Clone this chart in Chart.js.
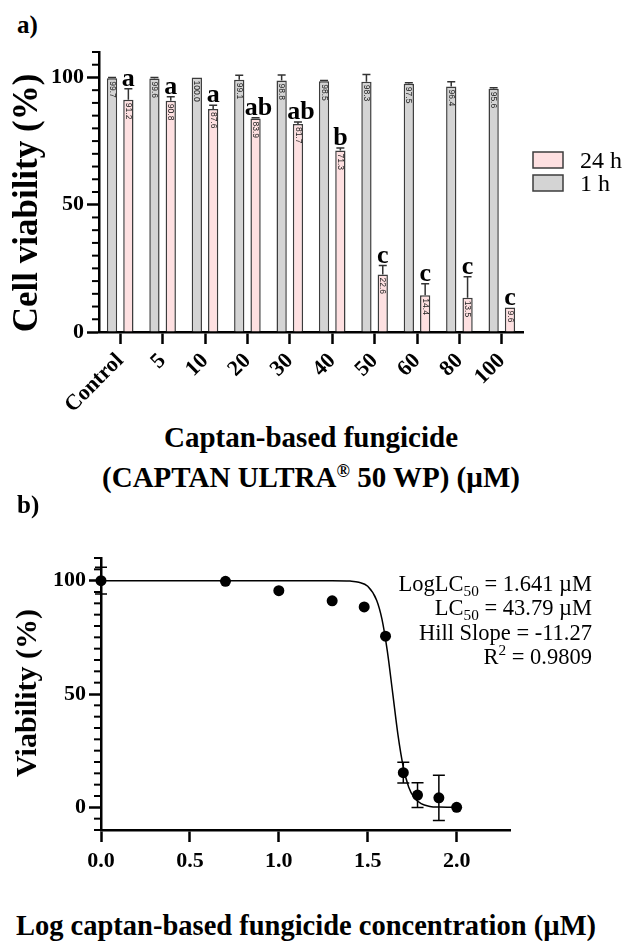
<!DOCTYPE html>
<html>
<head>
<meta charset="utf-8">
<script src="https://cdn.jsdelivr.net/npm/chart.js@4.4.1/dist/chart.umd.min.js"></script>
<style>
  body { margin: 0; background: #fff; }
  #fig { position: relative; width: 624px; height: 941px; overflow: hidden;
         font-family: 'Liberation Serif', 'Times New Roman', serif; color: #000; }
  .txt { position: absolute; white-space: nowrap; line-height: 1; }
  .bold { font-weight: bold; }
  .ytitle { transform: translate(-50%, -50%) rotate(-90deg); }
  .xtitle { transform: translateX(-50%); }
  .reg { font-size: 0.62em; vertical-align: 0.55em; line-height: 0; }
  .stats { text-align: right; font-size: 22.5px; line-height: 24.5px; }
  .stats sub { font-size: 0.68em; vertical-align: -0.3em; line-height: 0; }
  .stats sup { font-size: 0.68em; vertical-align: 0.6em; line-height: 0; }
  #wrapA { position: absolute; left: 0; top: 0; }
  #wrapB { position: absolute; left: 0; top: 480px; }
  canvas { display: block; }
</style>
</head>
<body>
<div id="fig">
  <div class="txt bold" style="left:17px; top:12px; font-size:25px;">a)</div>
  <div id="wrapA"><canvas id="chartA" width="624" height="420"></canvas></div>
  <div class="txt bold ytitle" style="left:25px; top:203px; font-size:35px;">Cell viability (%)</div>
  <div class="txt bold xtitle" style="left:311px; top:422.7px; font-size:29px;">Captan-based fungicide</div>
  <div class="txt bold xtitle" style="left:311px; top:462.7px; font-size:29px;">(CAPTAN ULTRA<span class="reg">®</span> 50 WP) (µM)</div>

  <div class="txt bold" style="left:17px; top:492px; font-size:25px;">b)</div>
  <div id="wrapB"><canvas id="chartB" width="624" height="400"></canvas></div>
  <div class="txt bold ytitle" style="left:26px; top:693px; font-size:30px;">Viability (%)</div>
  <div class="txt stats" style="right:32px; top:571.8px;">
    LogLC<sub>50</sub> = 1.641 µM<br>LC<sub>50</sub> = 43.79 µM<br>Hill Slope = -11.27<br>R<sup>2</sup> = 0.9809
  </div>
  <div class="txt bold xtitle" style="left:306px; top:911.6px; font-size:28.5px;">Log captan-based fungicide concentration (µM)</div>
</div>

<script>
// a) cell viability per concentration
const concLabels = ['Control', '5', '10', '20', '30', '40', '50', '60', '80', '100'];
const viab1h = [99.7, 99.6, 100.0, 99.1, 98.8, 98.5, 98.3, 97.5, 96.4, 95.6];
const sd1h = [0.3, 0.4, 0, 1.8, 2.2, 0.3, 2.9, 0.4, 1.9, 0.4];
const viab24h = [91.2, 90.8, 87.6, 83.9, 81.7, 71.3, 22.6, 14.4, 13.5, 9.6];
const sd24h = [4.4, 1.6, 1.5, 0.3, 0.8, 1.0, 3.5, 4.6, 8.2, 0];
const letters24h = ['a', 'a', 'a', 'ab', 'ab', 'b', 'c', 'c', 'c', 'c'];

// b) dose-response, log concentration vs viability
const logConc = [0, 0.70, 1.00, 1.30, 1.48, 1.60, 1.70, 1.78, 1.90, 2.00];
const viability = [100, 99.7, 95.6, 91.1, 88.4, 75.5, 15.3, 5.4, 4.2, 0];
const viabilitySd = [5.9, 0, 0, 0, 0, 0, 4.6, 5.5, 10.0, 0];
// fitted curve
const fitX = [0, 0.5, 1.0, 1.3, 1.4, 1.45, 1.5, 1.55, 1.58, 1.61, 1.64, 1.67, 1.70, 1.73, 1.76, 1.80, 1.85, 1.90, 2.0];
const fitY = [100, 100, 100, 100, 99.8, 99.3, 97.5, 91.4, 83, 69, 50.6, 32, 17.8, 9.0, 4.4, 1.6, 0.4, 0.1, 0];

Chart.defaults.font.family = "'Liberation Serif', 'Times New Roman', serif";
Chart.defaults.color = '#000';
Chart.defaults.animation = false;

const tickFont = { family: "'Liberation Serif', serif", size: 22, weight: 'bold' };

function majorOnly(ctx) {
  return ctx.tick && ctx.tick.value % 50 === 0 ? '#000' : 'rgba(0,0,0,0)';
}

// short ticks every 5 on the y axis
const minorTicks = {
  id: 'minorTicks',
  afterDraw(chart) {
    const y = chart.scales.y, ctx = chart.ctx, left = chart.chartArea.left;
    ctx.save();
    ctx.strokeStyle = '#000';
    ctx.lineWidth = 2;
    y.ticks.forEach(t => {
      if (t.value % 50 === 0) return;
      const py = y.getPixelForValue(t.value);
      ctx.beginPath();
      ctx.moveTo(left - 7, py);
      ctx.lineTo(left, py);
      ctx.stroke();
    });
    ctx.restore();
  }
};

// error bars, value labels and letters on the bars
const barExtras = {
  id: 'barExtras',
  afterDatasetsDraw(chart) {
    const ctx = chart.ctx, yScale = chart.scales.y;
    chart.data.datasets.forEach((ds, di) => {
      const meta = chart.getDatasetMeta(di);
      meta.data.forEach((bar, i) => {
        const v = ds.data[i];
        const top = yScale.getPixelForValue(v + ds.sd[i]);
        ctx.save();
        if (ds.sd[i] > 0) {
          ctx.strokeStyle = '#333';
          ctx.lineWidth = 1.5;
          ctx.beginPath();
          ctx.moveTo(bar.x, bar.y);
          ctx.lineTo(bar.x, top);
          ctx.moveTo(bar.x - 4, top);
          ctx.lineTo(bar.x + 4, top);
          ctx.stroke();
        }
        ctx.translate(bar.x, bar.y + 3);
        ctx.rotate(Math.PI / 2);
        ctx.font = "8.5px 'Liberation Sans', Arial, sans-serif";
        ctx.fillStyle = '#222';
        ctx.textAlign = 'left';
        ctx.textBaseline = 'middle';
        ctx.fillText(v.toFixed(1), 0, 0);
        ctx.restore();
        if (ds.letters) {
          ctx.save();
          ctx.font = "bold 26px 'Liberation Serif', serif";
          ctx.fillStyle = '#000';
          ctx.textAlign = 'center';
          ctx.textBaseline = 'alphabetic';
          ctx.fillText(ds.letters[i], bar.x + (ds.letters[i].length > 1 ? 3 : 0), top - 3);
          ctx.restore();
        }
      });
    });
  }
};

// legend on the right, 24 h listed first
const sideLegend = {
  id: 'sideLegend',
  afterDraw(chart, args, opts) {
    const ctx = chart.ctx;
    const items = chart.data.datasets.slice().reverse();
    items.forEach((ds, k) => {
      const y = opts.top + k * opts.step;
      ctx.save();
      ctx.fillStyle = ds.backgroundColor;
      ctx.fillRect(opts.x, y, 30, 16);
      ctx.strokeStyle = ds.borderColor;
      ctx.lineWidth = 1.5;
      ctx.strokeRect(opts.x, y, 30, 16);
      ctx.fillStyle = '#000';
      ctx.font = "24px 'Liberation Serif', serif";
      ctx.textBaseline = 'alphabetic';
      ctx.fillText(ds.label, opts.x + 47, y + 16);
      ctx.restore();
    });
  }
};

new Chart(document.getElementById('chartA'), {
  type: 'bar',
  data: {
    labels: concLabels,
    datasets: [
      {
        label: '1 h', data: viab1h, sd: sd1h,
        backgroundColor: '#d4d4d4', borderColor: '#3c3c3c', borderWidth: 1.5,
        barPercentage: 0.63, categoryPercentage: 0.77
      },
      {
        label: '24 h', data: viab24h, sd: sd24h, letters: letters24h,
        backgroundColor: '#fee0e1', borderColor: '#3c3c3c', borderWidth: 1.5,
        barPercentage: 0.63, categoryPercentage: 0.77
      }
    ]
  },
  options: {
    responsive: false,
    layout: { padding: { top: 52, right: 101, left: 0, bottom: 0 } },
    plugins: {
      legend: { display: false },
      tooltip: { enabled: false },
      sideLegend: { x: 533, top: 152, step: 23 }
    },
    scales: {
      x: {
        z: 1,
        offset: true,
        grid: { drawOnChartArea: false, offset: false, tickLength: 12, tickWidth: 2.5, tickColor: '#000' },
        border: { color: '#000', width: 2.5 },
        ticks: { font: tickFont, maxRotation: 45, minRotation: 45, padding: 4, autoSkip: false },
        afterFit: (s) => { s.height = 88; }
      },
      y: {
        min: 0, max: 110,
        grid: { drawOnChartArea: false, tickLength: 12, tickWidth: 2.5, tickColor: majorOnly },
        border: { color: '#000', width: 2.5 },
        ticks: {
          stepSize: 5, autoSkip: false, font: tickFont, padding: 3,
          callback: (v) => (v % 50 === 0 ? v : '')
        },
        afterFit: (s) => { s.width = 99; }
      }
    }
  },
  plugins: [minorTicks, barExtras, sideLegend]
});

// error bars for the dose-response points
const pointErrors = {
  id: 'pointErrors',
  afterDatasetsDraw(chart) {
    const ctx = chart.ctx, yScale = chart.scales.y;
    chart.data.datasets.forEach((ds, di) => {
      if (!ds.sd) return;
      chart.getDatasetMeta(di).data.forEach((pt, i) => {
        const sd = ds.sd[i];
        if (!sd) return;
        const v = ds.data[i].y;
        const hi = yScale.getPixelForValue(v + sd);
        const lo = yScale.getPixelForValue(v - sd);
        ctx.save();
        ctx.strokeStyle = '#000';
        ctx.lineWidth = 1.5;
        ctx.beginPath();
        ctx.moveTo(pt.x, hi); ctx.lineTo(pt.x, lo);
        ctx.moveTo(pt.x - 6, hi); ctx.lineTo(pt.x + 6, hi);
        ctx.moveTo(pt.x - 6, lo); ctx.lineTo(pt.x + 6, lo);
        ctx.stroke();
        ctx.restore();
      });
    });
  }
};

new Chart(document.getElementById('chartB'), {
  type: 'scatter',
  data: {
    datasets: [
      {
        label: 'fit',
        data: fitX.map((x, i) => ({ x: x, y: fitY[i] })),
        showLine: true, pointRadius: 0, borderColor: '#000', borderWidth: 1.5,
        cubicInterpolationMode: 'monotone', clip: false
      },
      {
        label: 'viability',
        data: logConc.map((x, i) => ({ x: x, y: viability[i] })),
        sd: viabilitySd,
        pointRadius: 5.5, pointBackgroundColor: '#000', pointBorderWidth: 0, clip: false
      }
    ]
  },
  options: {
    responsive: false,
    layout: { padding: { top: 78, right: 114, left: 0, bottom: 0 } },
    plugins: { legend: { display: false }, tooltip: { enabled: false } },
    scales: {
      x: {
        type: 'linear', min: 0, max: 2.3,
        grid: { drawOnChartArea: false, tickLength: 12, tickWidth: 2.5, tickColor: '#000' },
        border: { color: '#000', width: 2.5 },
        ticks: {
          stepSize: 0.5, includeBounds: false, font: tickFont, padding: 6,
          callback: (v) => v.toFixed(1)
        },
        afterFit: (s) => { s.height = 50; }
      },
      y: {
        min: -10, max: 110,
        grid: { drawOnChartArea: false, tickLength: 12, tickWidth: 2.5, tickColor: majorOnly },
        border: { color: '#000', width: 2.5 },
        ticks: {
          stepSize: 5, autoSkip: false, font: tickFont, padding: 3,
          callback: (v) => (v % 50 === 0 ? v : '')
        },
        afterFit: (s) => { s.width = 101; }
      }
    }
  },
  plugins: [minorTicks, pointErrors]
});
</script>
</body>
</html>
